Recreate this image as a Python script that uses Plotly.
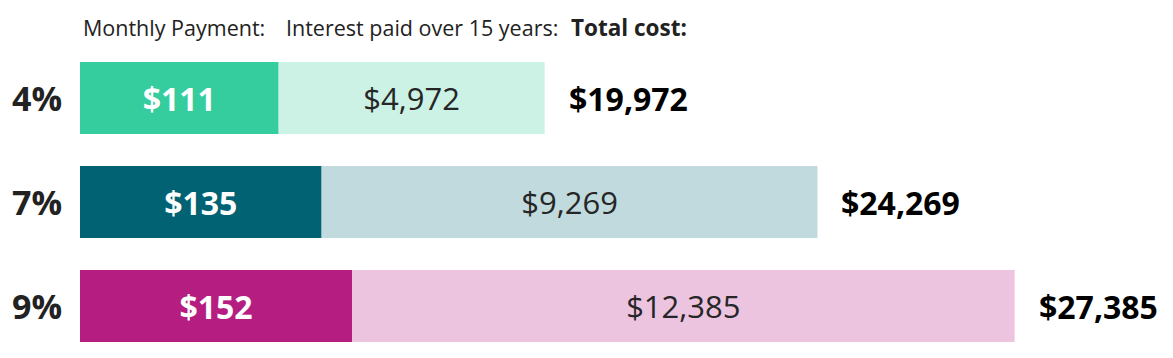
import plotly.graph_objects as go

# ---- data ----
rates = ["4%", "7%", "9%"]
monthly_payment = [111, 135, 152]
interest_paid = [4972, 9269, 12385]
total_cost = [19972, 24269, 27385]
headers = ["Monthly Payment:", "Interest paid over 15 years:", "Total cost:"]

dark_colors = ["#35CC9E", "#006272", "#B51D80"]
light_colors = ["#CCF2E5", "#C0DADD", "#ECC4E0"]

# axis units per $ of monthly payment (payment segment drawn on its own scale)
PAYMENT_SCALE = 33.45
pay_len = [p * PAYMENT_SCALE for p in monthly_payment]
bar_end = [pl + i for pl, i in zip(pay_len, interest_paid)]

FONT = "Open Sans"

fig = go.Figure()
fig.add_trace(go.Bar(
    y=rates, x=pay_len, orientation="h",
    marker=dict(color=dark_colors, line=dict(width=0)),
    text=[f"${p}" for p in monthly_payment],
    textposition="inside", insidetextanchor="middle", textangle=0,
    textfont=dict(family=FONT, size=32, color="white", weight="bold"),
    hoverinfo="skip",
))
fig.add_trace(go.Bar(
    y=rates, x=interest_paid, base=pay_len, orientation="h",
    marker=dict(color=light_colors, line=dict(width=0)),
    text=[f"${v:,}" for v in interest_paid],
    textposition="inside", insidetextanchor="middle", textangle=0,
    textfont=dict(family=FONT, size=31, color="#262626"),
    hoverinfo="skip",
))

annotations = []
for r, end, tot in zip(rates, bar_end, total_cost):
    annotations.append(dict(
        x=end, y=r, xref="x", yref="y", xanchor="left", yanchor="middle",
        xshift=22, showarrow=False, text=f"${tot:,}",
        font=dict(family=FONT, size=32, color="#000000", weight="bold"),
    ))
    annotations.append(dict(
        x=0, y=r, xref="paper", yref="y", xanchor="right", yanchor="middle",
        xshift=-16, showarrow=False, text=r,
        font=dict(family=FONT, size=34, color="#222222", weight="bold"),
    ))

header_x = [0, pay_len[0], bar_end[0]]
header_shift = [1, 5, 24]
for h, hx, hs in zip(headers, header_x, header_shift):
    bold = h.startswith("Total")
    annotations.append(dict(
        x=hx, y=1, xref="x", yref="paper", xanchor="left", yanchor="middle",
        xshift=hs, yshift=19, showarrow=False, text=h,
        font=dict(family=FONT, size=21.5 if not bold else 22.5, color="#222222",
                  weight="bold" if bold else "normal"),
    ))

# the exported page has an 8px body margin; size the figure to fit the window
FIG_W, FIG_H = 1165, 350
plot_w = FIG_W - 72
px_per_unit = 0.0535
fig.update_layout(
    width=FIG_W, height=FIG_H,
    margin=dict(l=72, r=0, t=38, b=0, autoexpand=False),
    paper_bgcolor="white", plot_bgcolor="white",
    barmode="overlay", bargap=0.31,
    showlegend=False,
    annotations=annotations,
    xaxis=dict(range=[0, plot_w / px_per_unit], visible=False, fixedrange=True),
    yaxis=dict(type="category", categoryorder="array", categoryarray=rates,
               range=[2.5, -0.5], visible=False, fixedrange=True),
    uniformtext=dict(mode=False),
)

fig.write_html("out.html", config={"displayModeBar": False})
